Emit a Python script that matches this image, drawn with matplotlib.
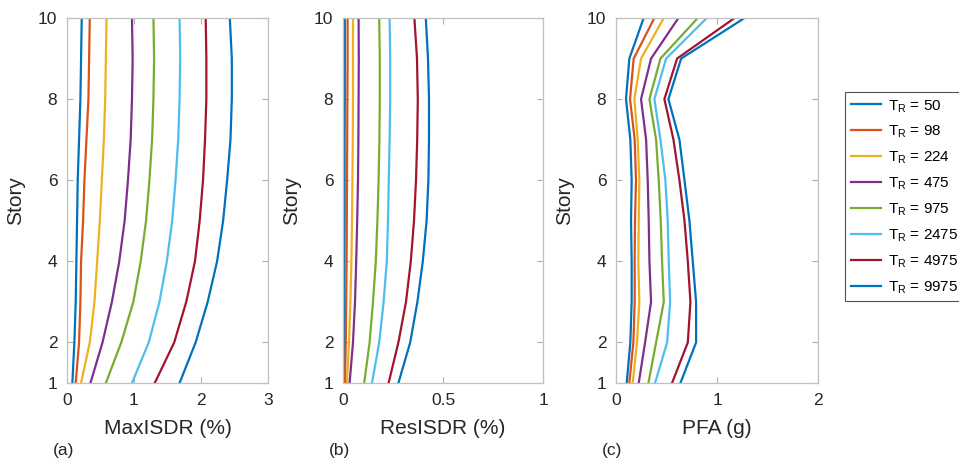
import matplotlib
matplotlib.use('Agg')
import matplotlib.pyplot as plt

plt.rcParams['font.family'] = ['Liberation Sans', 'DejaVu Sans']
plt.rcParams['mathtext.fontset'] = 'custom'
plt.rcParams['mathtext.rm'] = 'Liberation Sans'

story = [1, 2, 3, 4, 5, 6, 7, 8, 9, 10]
tr = ['50', '98', '224', '475', '975', '2475', '4975', '9975']
colors = ['#0072BD', '#D95319', '#EDB120', '#7E2F8E', '#77AC30', '#4DBEEE', '#A2142F', '#0072BD']

# MaxISDR (%)
max_isdr = [
    [0.08, 0.11, 0.13, 0.14, 0.15, 0.16, 0.18, 0.20, 0.21, 0.22],
    [0.13, 0.18, 0.20, 0.21, 0.24, 0.26, 0.29, 0.32, 0.33, 0.34],
    [0.21, 0.34, 0.41, 0.45, 0.49, 0.52, 0.55, 0.57, 0.58, 0.59],
    [0.35, 0.53, 0.67, 0.78, 0.86, 0.91, 0.95, 0.97, 0.98, 0.97],
    [0.58, 0.81, 0.99, 1.10, 1.18, 1.23, 1.27, 1.29, 1.30, 1.29],
    [0.97, 1.22, 1.38, 1.49, 1.57, 1.62, 1.66, 1.68, 1.69, 1.68],
    [1.31, 1.60, 1.78, 1.91, 1.98, 2.03, 2.06, 2.08, 2.08, 2.07],
    [1.68, 1.92, 2.10, 2.24, 2.33, 2.39, 2.44, 2.46, 2.46, 2.43],
]

# ResISDR (%)
res_isdr = [
    [0.005, 0.006, 0.007, 0.007, 0.008, 0.008, 0.008, 0.009, 0.009, 0.009],
    [0.010, 0.014, 0.016, 0.018, 0.019, 0.020, 0.021, 0.022, 0.023, 0.023],
    [0.020, 0.030, 0.037, 0.042, 0.045, 0.047, 0.049, 0.050, 0.050, 0.050],
    [0.033, 0.050, 0.060, 0.066, 0.071, 0.075, 0.077, 0.078, 0.079, 0.078],
    [0.106, 0.133, 0.150, 0.164, 0.172, 0.178, 0.182, 0.184, 0.184, 0.181],
    [0.145, 0.181, 0.203, 0.219, 0.225, 0.229, 0.233, 0.236, 0.236, 0.233],
    [0.228, 0.277, 0.315, 0.339, 0.355, 0.365, 0.371, 0.374, 0.370, 0.357],
    [0.277, 0.336, 0.372, 0.399, 0.418, 0.427, 0.430, 0.430, 0.425, 0.414],
]

# PFA (g)
pfa = [
    [0.106, 0.142, 0.155, 0.155, 0.149, 0.155, 0.142, 0.099, 0.132, 0.274],
    [0.132, 0.172, 0.185, 0.185, 0.188, 0.198, 0.185, 0.139, 0.175, 0.380],
    [0.165, 0.208, 0.231, 0.221, 0.225, 0.231, 0.215, 0.182, 0.248, 0.473],
    [0.225, 0.288, 0.347, 0.331, 0.324, 0.314, 0.298, 0.248, 0.347, 0.618],
    [0.321, 0.397, 0.473, 0.456, 0.443, 0.423, 0.397, 0.331, 0.440, 0.810],
    [0.387, 0.506, 0.536, 0.522, 0.512, 0.489, 0.440, 0.380, 0.496, 0.899],
    [0.555, 0.711, 0.737, 0.711, 0.678, 0.628, 0.569, 0.479, 0.605, 1.174],
    [0.638, 0.793, 0.793, 0.760, 0.727, 0.678, 0.628, 0.519, 0.645, 1.273],
]

W, H = 959, 459
fig = plt.figure(figsize=(W / 100, H / 100), dpi=100)

panels = [
    (max_isdr, 67, 201, [0, 1, 2, 3], ['0', '1', '2', '3'], (0, 3), 'MaxISDR (%)', '(a)'),
    (res_isdr, 343, 200, [0, 0.5, 1], ['0', '0.5', '1'], (0, 1), 'ResISDR (%)', '(b)'),
    (pfa, 616, 202, [0, 1, 2], ['0', '1', '2'], (0, 2), 'PFA (g)', '(c)'),
]

lines = []
for data, left, width, xt, xtl, xlim, xlabel, tag in panels:
    ax = fig.add_axes([left / W, 1 - 383 / H, width / W, (383 - 18) / H])
    for i, vals in enumerate(data):
        ln, = ax.plot(vals, story, color=colors[i], lw=1.6)
        if tag == '(a)':
            lines.append(ln)
    ax.set_xlim(*xlim)
    ax.set_ylim(1, 10)
    ax.set_xticks(xt)
    ax.set_xticklabels(xtl)
    ax.set_yticks([1, 2, 4, 6, 8, 10])
    ax.tick_params(direction='in', top=True, right=True, labelsize=12.5,
                   colors='#b0b0b0', labelcolor='#262626', length=4, pad=7)
    for s in ax.spines.values():
        s.set_color('#c0c0c0')
        s.set_linewidth(0.9)
    ax.set_xlabel(xlabel, fontsize=15, color='#262626', labelpad=8)
    ax.set_ylabel('Story', fontsize=15, color='#262626', labelpad=9)
    fig.text((left - 14) / W, 1 - 451 / H, tag, fontsize=12.5, color='#262626',
             ha='left', va='center')

labels = ['T$_{\\mathrm{R}}$ = ' + t for t in tr]
leg = fig.legend(lines, labels, loc='upper left', bbox_to_anchor=(845 / W, 1 - 92 / H),
                 fontsize=11, frameon=True, fancybox=False, edgecolor='#262626',
                 handlelength=2.0, handletextpad=0.45, labelspacing=0.6,
                 borderpad=0.38, borderaxespad=0)
leg.get_frame().set_linewidth(0.8)

fig.savefig('out.png', dpi=100)
